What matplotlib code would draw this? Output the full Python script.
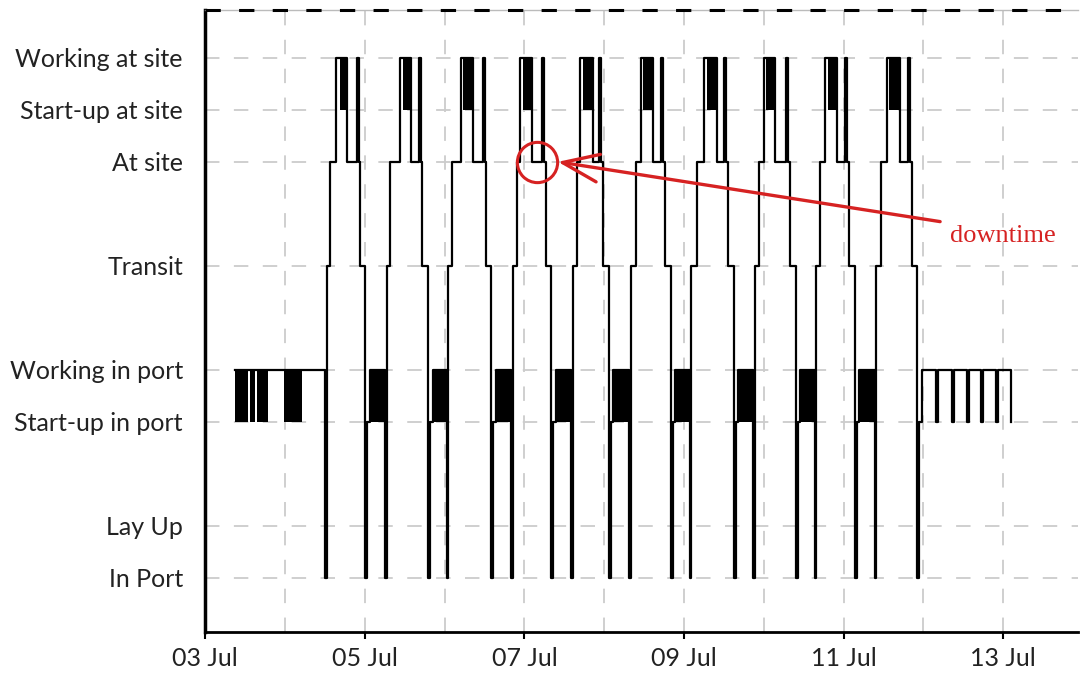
import matplotlib
matplotlib.use('Agg')
import matplotlib.pyplot as plt
import matplotlib.dates as mdates
import pandas as pd

# vessel states and their height on the y axis (the gaps are on purpose)
state_names = ['In Port', 'Lay Up', 'Start-up in port', 'Working in port',
               'Transit', 'At site', 'Start-up at site', 'Working at site']
state_levels = [0, 1, 3, 4, 6, 8, 9, 10]

start_date = '2013-07-03'  # only day and month are shown

# all times below are days after 03 Jul 00:00
# opening stay in port
first_work_start = 0.376
first_band_start = [0.376, 0.564, 0.652, 0.990]
first_band_end = [0.539, 0.627, 0.789, 1.216]
first_leave_berth = 1.504

# trips out to site
trip_transit = [1.529, 2.281, 3.045, 3.860, 4.612, 5.338, 6.090, 6.892, 7.657, 8.409]
trip_at_site = [1.566, 2.318, 3.095, 3.910, 4.662, 5.401, 6.165, 6.942, 7.707, 8.471]
trip_working = [1.642, 2.444, 3.208, 3.947, 4.699, 5.464, 6.253, 7.005, 7.769, 8.546]
site_band_start = [1.692, 2.481, 3.233, 3.985, 4.737, 5.489, 6.291, 7.030, 7.807, 8.571]
site_band_end = [1.779, 2.581, 3.358, 4.098, 4.862, 5.614, 6.416, 7.143, 7.920, 8.709]
last_job_start = [1.905, 2.682, 3.484, 4.223, 4.937, 5.714, 6.504, 7.281, 8.020, 8.810]
last_job_end = [1.930, 2.707, 3.509, 4.248, 4.962, 5.739, 6.529, 7.306, 8.045, 8.835]
trip_return = [1.942, 2.719, 3.521, 4.273, 4.987, 5.764, 6.554, 7.331, 8.070, 8.860]
trip_in_port = [2.005, 2.794, 3.584, 4.336, 5.063, 5.840, 6.629, 7.406, 8.145, 8.922]

# port calls between trips
port_startup = [2.030, 2.820, 3.609, 4.361, 5.088, 5.865, 6.654, 7.431, 8.170]
port_band_start = [2.068, 2.857, 3.647, 4.398, 5.113, 5.890, 6.679, 7.456, 8.195]
port_band_end = [2.256, 3.033, 3.835, 4.586, 5.313, 6.078, 6.867, 7.644, 8.396]

# last stay in port
final_startup = 8.947
final_work = 8.985
final_dips = [9.160, 9.361, 9.549, 9.724, 9.912]
dip_length = 0.02
final_end = 10.100

downtime_trip = 3  # the 4th trip waits at site


def main():
    level = dict(zip(state_names, state_levels))

    events = [(first_work_start, 'Working in port'), (first_leave_berth, 'In Port')]
    for i in range(len(trip_transit)):
        events += [(trip_transit[i], 'Transit'), (trip_at_site[i], 'At site'),
                   (trip_working[i], 'Working at site'), (site_band_end[i], 'At site'),
                   (last_job_start[i], 'Working at site'), (last_job_end[i], 'At site'),
                   (trip_return[i], 'Transit'), (trip_in_port[i], 'In Port')]
        if i < len(port_startup):
            events += [(port_startup[i], 'Start-up in port'),
                       (port_band_start[i], 'Working in port'),
                       (port_band_end[i], 'In Port')]
    events += [(final_startup, 'Start-up in port'), (final_work, 'Working in port')]
    for d in final_dips:
        events += [(d, 'Start-up in port'), (d + dip_length, 'Working in port')]
    events += [(final_end, 'Start-up in port')]

    t0 = mdates.date2num(pd.Timestamp(start_date))
    xs = [t0 + e[0] for e in events]
    ys = [level[e[1]] for e in events]

    fig = plt.figure(figsize=(10.8, 6.73), dpi=100)
    ax = fig.add_axes([0.19, 0.061, 0.8083, 0.9242])

    grid_kw = dict(color='#cccccc', lw=1.3, ls=(0, (8, 8)), zorder=0)
    for lv in state_levels:
        ax.axhline(lv, **grid_kw)
    for d in range(1, 11):
        ax.axvline(t0 + d, **grid_kw)

    # rapid switching shows up as solid black blocks
    lo, hi = level['Start-up in port'], level['Working in port']
    for a, b in zip(first_band_start + port_band_start, first_band_end + port_band_end):
        ax.fill_between([t0 + a, t0 + b], lo, hi, color='black', lw=0, zorder=2)
    lo, hi = level['Start-up at site'], level['Working at site']
    for a, b in zip(site_band_start, site_band_end):
        ax.fill_between([t0 + a, t0 + b], lo, hi, color='black', lw=0, zorder=2)

    ax.step(xs, ys, where='post', color='black', lw=1.6, zorder=3)

    # downtime marker
    red = '#d62222'
    cx = t0 + (site_band_end[downtime_trip] + last_job_start[downtime_trip]) / 2
    cy = level['At site']
    ax.plot([cx], [cy], 'o', ms=29, mfc='none', mec=red, mew=2.2, zorder=4)
    ax.annotate('', xy=(cx + 0.26, cy), xytext=(t0 + 9.21, 6.85),
                arrowprops=dict(arrowstyle='->, head_length=1.3, head_width=0.5',
                                color=red, lw=2.4, mutation_scale=20, shrinkA=0, shrinkB=0),
                zorder=4)
    ax.text(t0 + 9.33, 6.58, 'downtime', color=red, fontsize=19,
            family='Liberation Serif', va='center', ha='left')

    ax.set_xlim(t0, t0 + 10.94)
    ax.set_ylim(-1.04, 10.92)
    ax.set_yticks(state_levels)
    ax.set_yticklabels(state_names)
    ax.xaxis.set_major_locator(mdates.DayLocator(bymonthday=[3, 5, 7, 9, 11, 13]))
    ax.xaxis.set_major_formatter(mdates.DateFormatter('%d %b'))

    for lab in ax.get_xticklabels() + ax.get_yticklabels():
        lab.set_family('Lato')
        lab.set_fontsize(18)
        lab.set_color('#222222')
    ax.tick_params(axis='y', length=0, pad=16)
    ax.tick_params(axis='x', length=5, width=1.5, pad=6)

    ax.spines['right'].set_visible(False)
    ax.spines['left'].set_linewidth(2.5)
    ax.spines['bottom'].set_linewidth(2)
    ax.spines['top'].set_color('#bbbbbb')
    ax.spines['top'].set_linewidth(1)
    ax.axhline(10.92, color='black', lw=2.2, ls=(0, (5, 6)), clip_on=False, zorder=5)

    fig.savefig('out.png', dpi=100)


if __name__ == '__main__':
    main()
